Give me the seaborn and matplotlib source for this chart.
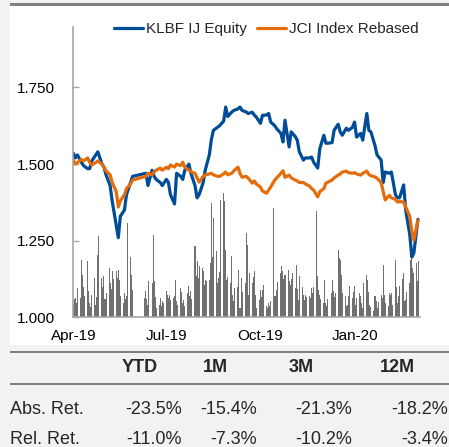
import numpy as np
import pandas as pd
import matplotlib
matplotlib.use('Agg')
import matplotlib.pyplot as plt
import matplotlib.dates as mdates
from matplotlib.patches import Rectangle
import seaborn as sns

sns.set_theme(style='white')
plt.rcParams['font.family'] = ['Liberation Sans', 'DejaVu Sans']

# ---------------- data ----------------
pre_dates = pd.bdate_range('2019-04-01', periods=43)
post_dates = pd.bdate_range('2019-06-10', periods=193)
trade_dates = pre_dates.append(post_dates)
line_dates = trade_dates[::2]

klbf = [1.536, 1.52, 1.53, 1.505, 1.495, 1.485, 1.485, 1.51, 1.53, 1.54,
        1.50, 1.49, 1.465, 1.43, 1.38, 1.30, 1.26, 1.33, 1.35, 1.40,
        1.44, 1.46, 1.47, 1.43, 1.48, 1.46, 1.45, 1.44, 1.43, 1.45,
        1.44, 1.40, 1.37, 1.47, 1.46, 1.45, 1.48, 1.50, 1.47, 1.43,
        1.39, 1.40, 1.44, 1.48, 1.53, 1.58, 1.61, 1.62, 1.625, 1.64,
        1.686, 1.655, 1.67, 1.675, 1.68, 1.686, 1.675, 1.67, 1.665, 1.669,
        1.66, 1.653, 1.633, 1.659, 1.66, 1.665, 1.637, 1.625, 1.615, 1.60,
        1.572, 1.643, 1.556, 1.605, 1.59, 1.578, 1.54, 1.513, 1.52, 1.52,
        1.523, 1.506, 1.487, 1.55, 1.594, 1.568, 1.568, 1.57, 1.61, 1.63,
        1.605, 1.594, 1.617, 1.61, 1.62, 1.637, 1.588, 1.60, 1.578, 1.665,
        1.61, 1.605, 1.56, 1.53, 1.513, 1.44, 1.474, 1.47, 1.474, 1.40,
        1.39, 1.39, 1.432, 1.35, 1.27, 1.197, 1.21, 1.32]

jci = [1.513, 1.50, 1.505, 1.515, 1.51, 1.52, 1.505, 1.497, 1.505, 1.51,
       1.50, 1.49, 1.478, 1.465, 1.44, 1.41, 1.36, 1.38, 1.40, 1.42,
       1.435, 1.448, 1.46, 1.47, 1.465, 1.475, 1.48, 1.487, 1.48, 1.49,
       1.485, 1.497, 1.49, 1.50, 1.495, 1.506, 1.49, 1.48, 1.475, 1.47,
       1.455, 1.441, 1.46, 1.464, 1.468, 1.47, 1.465, 1.46, 1.46, 1.468,
       1.474, 1.465, 1.47, 1.478, 1.49, 1.47, 1.457, 1.46, 1.454, 1.438,
       1.445, 1.435, 1.425, 1.412, 1.405, 1.415, 1.425, 1.448, 1.455, 1.47,
       1.478, 1.457, 1.464, 1.455, 1.448, 1.445, 1.44, 1.44, 1.435, 1.428,
       1.42, 1.415, 1.393, 1.41, 1.42, 1.438, 1.441, 1.448, 1.455, 1.464,
       1.468, 1.474, 1.477, 1.472, 1.47, 1.472, 1.468, 1.464, 1.47, 1.477,
       1.466, 1.462, 1.458, 1.454, 1.44, 1.41, 1.383, 1.398, 1.39, 1.385,
       1.376, 1.378, 1.376, 1.36, 1.33, 1.28, 1.252, 1.317]

volume = [12, 18, 19, 14, 29, 19, 57, 42, 30, 21,
          56, 26, 14, 10, 22, 39, 12, 20, 62, 81,
          39, 30, 41, 18, 24, 49, 34, 28, 46, 38,
          46, 39, 47, 37, 21, 14, 24, 18, 21, 94,
          60, 42, 27,
          19, 26, 18, 12, 36, 34, 82, 36, 20, 9,
          12, 19, 11, 16, 14, 26, 22, 19, 22, 17,
          19, 21, 37, 16, 12, 29, 25, 14, 17, 11,
          24, 31, 21, 26, 18, 71, 41, 56, 39, 51,
          49, 46, 32, 37, 36, 37, 54, 114, 60, 99,
          66, 34, 39, 45, 117, 124, 116, 67, 37, 40,
          34, 61, 22, 16, 29, 30, 47, 9, 39, 25,
          34, 84, 72, 22, 44, 34, 40, 46, 22, 9,
          17, 27, 20, 27, 32, 11, 9, 14, 11, 16,
          109, 21, 21, 27, 35, 44, 51, 46, 38, 42,
          47, 36, 32, 38, 44, 29, 52, 28, 17, 41,
          30, 22, 17, 22, 20, 21, 19, 29, 24, 30,
          106, 41, 27, 22, 18, 14, 37, 14, 11, 18,
          24, 37, 26, 20, 24, 67, 59, 57, 42, 24,
          21, 11, 12, 21, 31, 19, 25, 31, 12, 19,
          24, 21, 14, 9, 34, 42, 37, 25, 12, 10,
          6, 21, 16, 9, 15, 22, 19, 52, 22, 14,
          11, 24, 22, 24, 12, 57, 30, 14, 21, 31,
          38, 44, 16, 17, 25, 34, 57, 61, 49, 44,
          54, 36, 56]

series_names = ['KLBF IJ Equity', 'JCI Index Rebased']
y_ticks = [1.0, 1.25, 1.5, 1.75]
x_ticks = ['2019-04-01', '2019-07-01', '2019-10-01', '2020-01-01']

table_cols = ['YTD', '1M', '3M', '12M']
table_rows = ['Abs. Ret.', 'Rel. Ret.']
abs_ret = ['-23.5%', '-15.4%', '-21.3%', '-18.2%']
rel_ret = ['-11.0%', '-7.3%', '-10.2%', '-3.4%']

# ---------------- figure ----------------
W, H = 449, 447
fig = plt.figure(figsize=(W / 100, H / 100), dpi=100, facecolor='#f2f2f2')

def fx(px):
    return px / W

def fy(py):
    return 1 - py / H

def band(x0, y_top, w, h, color, z):
    fig.patches.append(Rectangle((fx(x0), fy(y_top + h)), fx(w), h / H,
                                 transform=fig.transFigure, facecolor=color,
                                 edgecolor='none', zorder=z))

band(10, 6, 439, 339, 'white', -3)
band(10, 2.7, 439, 3.3, '#808080', -2)
band(10, 350.5, 439, 2.6, '#808080', -2)
band(10, 382.8, 439, 2.2, '#808080', -2)

ax = fig.add_axes([fx(73.3), fy(317.4), fx(420 - 73.3), (317.4 - 27) / H])
ax_v = ax.twinx()
ax.set_zorder(ax_v.get_zorder() + 1)
ax.patch.set_visible(False)
ax_v.patch.set_visible(False)

ax_v.bar(trade_dates, volume, width=1.0, color='#707070', linewidth=0)
ax_v.set_ylim(0, 290)
ax_v.set_yticks([])
for s in ax_v.spines.values():
    s.set_visible(False)

df = pd.DataFrame({'date': line_dates, series_names[0]: klbf, series_names[1]: jci})
long = df.melt(id_vars='date', var_name='series', value_name='value')
sns.lineplot(data=long, x='date', y='value', hue='series',
             palette=['#004c97', '#e46c0a'], linewidth=2.3, ax=ax)

ax.set_xlim(pd.Timestamp('2019-04-01'), pd.Timestamp('2020-03-05'))
ax.set_ylim(1.0, 1.947)
ax.set_yticks(y_ticks)
ax.set_yticklabels([f'{v:.3f}' for v in y_ticks])
ax.set_xticks(pd.to_datetime(x_ticks))
ax.xaxis.set_major_formatter(mdates.DateFormatter('%b-%y'))
ax.set_xlabel('')
ax.set_ylabel('')
for side in ['top', 'right']:
    ax.spines[side].set_visible(False)
for side in ['left', 'bottom']:
    ax.spines[side].set_color('#a6a6a6')
    ax.spines[side].set_linewidth(1.2)
ax.tick_params(axis='y', direction='in', length=4, width=1, color='#a6a6a6',
               pad=13, labelsize=11, labelcolor='black')
ax.tick_params(axis='x', direction='out', length=3, width=1, color='#a6a6a6',
               pad=5, labelsize=11, labelcolor='black')

handles, labels = ax.get_legend_handles_labels()
ax.legend(handles, labels, loc='center', bbox_to_anchor=(0.556, 0.993), ncol=2,
          frameon=False, fontsize=11, handlelength=1.9, handletextpad=0.2,
          columnspacing=0.65, borderaxespad=0)

# ---------------- table ----------------
col_centers = [139.5, 215.5, 301, 397.5]
col_rights = [182, 257, 352, 448]
for c, name in zip(col_centers, table_cols):
    fig.text(fx(c), fy(371.5), name, ha='center', va='baseline',
             fontsize=13, fontweight='bold')
for rname, vals, yb in zip(table_rows, [abs_ret, rel_ret], [414, 444]):
    fig.text(fx(10), fy(yb), rname, ha='left', va='baseline', fontsize=13)
    for xr, v in zip(col_rights, vals):
        fig.text(fx(xr), fy(yb), v, ha='right', va='baseline', fontsize=13)

fig.savefig('out.png', dpi=100, facecolor=fig.get_facecolor())
